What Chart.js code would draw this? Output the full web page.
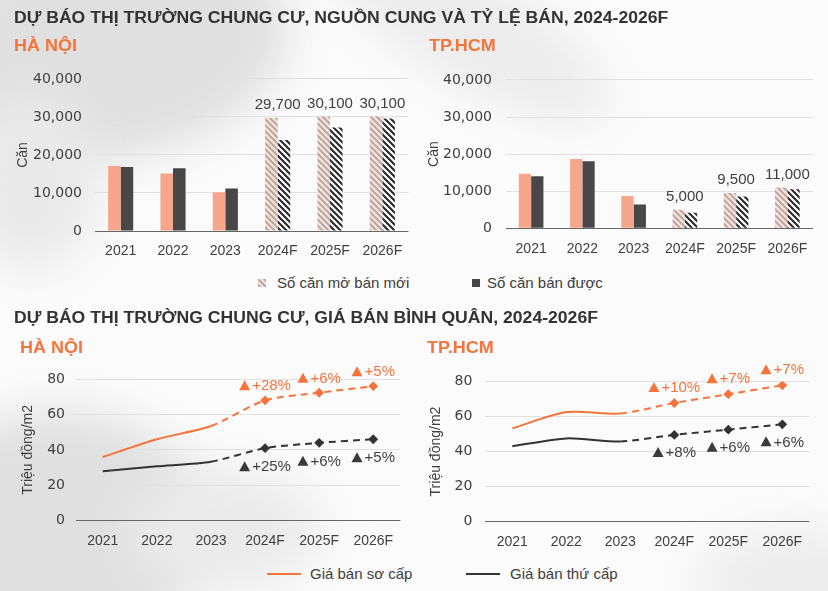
<!DOCTYPE html>
<html>
<head>
<meta charset="utf-8">
<script src="https://cdn.jsdelivr.net/npm/chart.js@4.4.1/dist/chart.umd.min.js"></script>
<style>
  body { margin: 0; background: #fff; font-family: "Liberation Sans", Arial, sans-serif; }
  #page { position: relative; width: 828px; height: 591px; overflow: hidden; background: #fbfbfb; }
  .blob { position: absolute; border-radius: 50%; filter: blur(22px); }
  .title { position: absolute; left: 14px; font-size: 16px; font-weight: bold; color: #333; white-space: nowrap; transform: scaleX(1.1); transform-origin: left center; }
  .city { position: absolute; font-size: 17px; font-weight: bold; color: #F4743B; transform: scaleX(1.06); transform-origin: left center; }
  .box { position: absolute; }
  .legend { position: absolute; font-size: 15px; color: #404040; white-space: nowrap; }
  .sw { position: absolute; width: 8px; height: 8px; }
  .ln { position: absolute; width: 34px; height: 2px; }
</style>
</head>
<body>
<div id="page">
  <!-- soft grey brush shapes in the background -->
  <div class="blob" style="left:-70px;top:-70px;width:360px;height:230px;background:#e0e0e0;transform:rotate(-8deg)"></div>
  <div class="blob" style="left:-40px;top:90px;width:140px;height:180px;background:#e9e9e9"></div>
  <div class="blob" style="left:300px;top:-30px;width:330px;height:110px;background:#ececec;transform:rotate(32deg)"></div>
  <div class="blob" style="left:-90px;top:410px;width:300px;height:240px;background:#e0e0e0"></div>
  <div class="blob" style="left:120px;top:470px;width:200px;height:120px;background:#eaeaea"></div>
  <div class="blob" style="left:700px;top:530px;width:200px;height:100px;background:#ececec"></div>

  <div class="title" style="top:9px">DỰ BÁO THỊ TRƯỜNG CHUNG CƯ, NGUỒN CUNG VÀ TỶ LỆ BÁN, 2024-2026F</div>
  <div class="city" style="left:14px;top:36px">HÀ NỘI</div>
  <div class="city" style="left:429px;top:36px">TP.HCM</div>

  <div class="box" style="left:0;top:58px;width:414px;height:210px"><canvas id="hnBar" width="414" height="210"></canvas></div>
  <div class="box" style="left:414px;top:58px;width:414px;height:210px"><canvas id="hcmBar" width="414" height="210"></canvas></div>

  <div class="sw" id="swSupply" style="left:258px;top:279px"></div>
  <div class="legend" style="left:277px;top:274px">Số căn mở bán mới</div>
  <div class="sw" style="left:472px;top:279px;background:#474747"></div>
  <div class="legend" style="left:487px;top:274px">Số căn bán được</div>

  <div class="title" style="top:309px">DỰ BÁO THỊ TRƯỜNG CHUNG CƯ, GIÁ BÁN BÌNH QUÂN, 2024-2026F</div>
  <div class="city" style="left:20px;top:338px">HÀ NỘI</div>
  <div class="city" style="left:427px;top:338px">TP.HCM</div>

  <div class="box" style="left:0;top:360px;width:414px;height:200px"><canvas id="hnLine" width="414" height="200"></canvas></div>
  <div class="box" style="left:414px;top:360px;width:414px;height:200px"><canvas id="hcmLine" width="414" height="200"></canvas></div>

  <div class="ln" style="left:267px;top:573px;background:#F4743B"></div>
  <div class="legend" style="left:310px;top:565px">Giá bán sơ cấp</div>
  <div class="ln" style="left:466px;top:573px;background:#333"></div>
  <div class="legend" style="left:510px;top:565px">Giá bán thứ cấp</div>
</div>

<script>
/* Data */
const years = ['2021', '2022', '2023', '2024F', '2025F', '2026F'];
const forecastFrom = 3;

const hnSupply = [17100, 15100, 10200, 29700, 30100, 30100];
const hnSold = [16800, 16500, 11200, 23900, 27200, 29600];
const hcmSupply = [14700, 18700, 8700, 5000, 9500, 11000];
const hcmSold = [14000, 18100, 6400, 4200, 8600, 10500];
const unitTicks = [0, 10000, 20000, 30000, 40000];

const hnPrimary = [36, 46, 53.5, 68, 72.3, 76];
const hnSecondary = [28, 30.7, 33.3, 41, 44, 46];
const hcmPrimary = [53.2, 62.5, 61.7, 67.7, 72.7, 77.8];
const hcmSecondary = [43, 47.5, 45.7, 49.5, 52.5, 55.5];
const priceTicks = [0, 20, 40, 60, 80];

const hnPrimaryGrowth = ['', '', '', '+28%', '+6%', '+5%'];
const hnSecondaryGrowth = ['', '', '', '+25%', '+6%', '+5%'];
const hcmPrimaryGrowth = ['', '', '', '+10%', '+7%', '+7%'];
const hcmSecondaryGrowth = ['', '', '', '+8%', '+6%', '+6%'];

/* Styles */
const ORANGE = '#F4743B';
const SALMON = '#F6A68B';
const DARK = '#474747';
const TEXT = '#404040';
const FONT = '"Liberation Sans", Arial, sans-serif';
const TICK_FONT = '"DejaVu Sans", "Liberation Sans", sans-serif';

Chart.defaults.font.family = FONT;
Chart.defaults.color = TEXT;

function hatch(bg, line, width) {
  const c = document.createElement('canvas');
  c.width = c.height = 6;
  const g = c.getContext('2d');
  g.fillStyle = bg;
  g.fillRect(0, 0, 6, 6);
  g.strokeStyle = line;
  g.lineWidth = width;
  g.beginPath();
  g.moveTo(-1, -1); g.lineTo(7, 7);
  g.moveTo(-1, 5); g.lineTo(1, 7);
  g.moveTo(5, -1); g.lineTo(7, 1);
  g.stroke();
  return c;
}

const orangeHatchCanvas = hatch('#f9ddd2', '#a9a3a1', 1.6);
const darkHatchCanvas = hatch('#ffffff', '#2a2a2a', 2.1);
document.getElementById('swSupply').style.background = 'url(' + orangeHatchCanvas.toDataURL() + ')';

function patternFor(chartCanvas, src) {
  return chartCanvas.getContext('2d').createPattern(src, 'repeat');
}

// value labels above the forecast "supply" bars
const barLabelPlugin = {
  id: 'barLabels',
  afterDatasetsDraw(chart) {
    const ctx = chart.ctx;
    const supply = chart.getDatasetMeta(0).data;
    const sold = chart.getDatasetMeta(1).data;
    ctx.save();
    ctx.font = '15px ' + FONT;
    ctx.fillStyle = TEXT;
    ctx.textAlign = 'center';
    ctx.textBaseline = 'middle';
    supply.forEach((bar, i) => {
      if (i < forecastFrom) return;
      const x = (bar.x + sold[i].x) / 2;
      const y = Math.min(bar.y, sold[i].y) - 13;
      ctx.fillText(chart.data.datasets[0].data[i].toLocaleString('en-US'), x, y);
    });
    ctx.restore();
  }
};

// ▲ growth notes next to forecast points
const growthPlugin = {
  id: 'growth',
  afterDatasetsDraw(chart, args, opts) {
    const ctx = chart.ctx;
    ctx.save();
    ctx.font = '15px ' + FONT;
    ctx.textBaseline = 'middle';
    chart.data.datasets.forEach((ds, di) => {
      const meta = chart.getDatasetMeta(di);
      opts.notes[di].forEach((txt, i) => {
        if (!txt) return;
        const p = meta.data[i];
        const y = p.y + opts.offsets[di];
        const tw = ctx.measureText(txt).width;
        const total = 11 + 2 + tw;
        const x0 = p.x - total / 2;
        ctx.fillStyle = opts.colors[di];
        ctx.beginPath();
        ctx.moveTo(x0, y + 5);
        ctx.lineTo(x0 + 11, y + 5);
        ctx.lineTo(x0 + 5.5, y - 5);
        ctx.closePath();
        ctx.fill();
        ctx.fillStyle = di === 0 ? ORANGE : TEXT;
        ctx.textAlign = 'left';
        ctx.fillText(txt, x0 + 13, y + 1);
      });
    });
    ctx.restore();
  }
};

function gridColor(c) {
  return c.tick.value === 0 ? '#666666' : '#e1e1e1';
}

// geo: y-axis width, x-axis height, label gaps, y title offset, layout padding
function barChart(id, supply, sold, geo) {
  const cv = document.getElementById(id);
  const orangeHatch = patternFor(cv, orangeHatchCanvas);
  const darkHatch = patternFor(cv, darkHatchCanvas);
  new Chart(cv, {
    type: 'bar',
    data: {
      labels: years,
      datasets: [
        {
          label: 'Số căn mở bán mới',
          data: supply,
          backgroundColor: years.map((y, i) => i >= forecastFrom ? orangeHatch : SALMON),
          categoryPercentage: 0.48,
          barPercentage: 1
        },
        {
          label: 'Số căn bán được',
          data: sold,
          backgroundColor: years.map((y, i) => i >= forecastFrom ? darkHatch : DARK),
          categoryPercentage: 0.48,
          barPercentage: 1
        }
      ]
    },
    options: {
      responsive: false,
      animation: false,
      layout: { padding: geo.pad },
      plugins: { legend: { display: false }, tooltip: { enabled: false } },
      scales: {
        x: {
          grid: { display: false },
          border: { display: false },
          ticks: { font: { size: 14 }, padding: geo.xPad, color: TEXT },
          afterFit: s => { s.height = geo.xH; }
        },
        y: {
          min: unitTicks[0],
          max: unitTicks[unitTicks.length - 1],
          afterBuildTicks: s => { s.ticks = unitTicks.map(v => ({ value: v })); },
          afterFit: s => { s.width = geo.yW; },
          grid: { color: gridColor, drawTicks: false, lineWidth: 1 },
          border: { display: false },
          ticks: { font: { size: 14, family: TICK_FONT }, padding: geo.yPad, color: TEXT, callback: v => v.toLocaleString('en-US') },
          title: { display: true, text: 'Căn', font: { size: 14 }, color: TEXT, padding: { top: geo.tPad, bottom: 0 } }
        }
      }
    },
    plugins: [barLabelPlugin]
  });
}

function lineChart(id, primary, secondary, notes, offsets, geo) {
  const dashed = ctx => ctx.p0DataIndex >= forecastFrom - 1 ? [7, 5] : undefined;
  const radius = ctx => ctx.dataIndex >= forecastFrom ? 3.5 : 0;
  new Chart(document.getElementById(id), {
    type: 'line',
    data: {
      labels: years,
      datasets: [
        {
          label: 'Giá bán sơ cấp',
          data: primary,
          borderColor: ORANGE,
          backgroundColor: ORANGE,
          borderWidth: 2,
          tension: 0.25,
          pointStyle: 'rectRot',
          pointRadius: radius,
          segment: { borderDash: dashed }
        },
        {
          label: 'Giá bán thứ cấp',
          data: secondary,
          borderColor: '#333',
          backgroundColor: '#333',
          borderWidth: 2,
          tension: 0.25,
          pointStyle: 'rectRot',
          pointRadius: radius,
          segment: { borderDash: dashed }
        }
      ]
    },
    options: {
      responsive: false,
      animation: false,
      layout: { padding: geo.pad },
      plugins: {
        legend: { display: false },
        tooltip: { enabled: false },
        growth: { notes: notes, offsets: offsets, colors: [ORANGE, '#3a3a3a'] }
      },
      scales: {
        x: {
          offset: true,
          grid: { display: false },
          border: { display: false },
          ticks: { font: { size: 14 }, padding: geo.xPad, color: TEXT },
          afterFit: s => { s.height = geo.xH; }
        },
        y: {
          min: priceTicks[0],
          max: priceTicks[priceTicks.length - 1],
          afterBuildTicks: s => { s.ticks = priceTicks.map(v => ({ value: v })); },
          afterFit: s => { s.width = geo.yW; },
          grid: { color: gridColor, drawTicks: false },
          border: { display: false },
          ticks: { font: { size: 14, family: TICK_FONT }, padding: geo.yPad, color: TEXT },
          title: { display: true, text: 'Triệu đồng/m2', font: { size: 14 }, color: TEXT, padding: { top: geo.tPad, bottom: 0 } }
        }
      }
    },
    plugins: [growthPlugin]
  });
}

barChart('hnBar', hnSupply, hnSold, { yW: 94.5, xH: 37, xPad: 4, yPad: 12.5, tPad: 14.6, pad: { left: 0, right: 5.5, top: 20, bottom: 0 } });
barChart('hcmBar', hcmSupply, hcmSold, { yW: 91.5, xH: 39.7, xPad: 4, yPad: 13.5, tPad: 11.6, pad: { left: 0, right: 15, top: 20.3, bottom: 0 } });
lineChart('hnLine', hnPrimary, hnSecondary, [hnPrimaryGrowth, hnSecondaryGrowth], [-15, 18],
  { yW: 75.7, xH: 39.3, xPad: 4, yPad: 10.7, tPad: 19.6, pad: { left: 0, right: 13.7, top: 19, bottom: 0 } });
lineChart('hcmLine', hcmPrimary, hcmSecondary, [hcmPrimaryGrowth, hcmSecondaryGrowth], [-16, 17],
  { yW: 71.3, xH: 38.3, xPad: 4, yPad: 13, tPad: 13.3, pad: { left: 0, right: 18.7, top: 20, bottom: 0 } });
</script>
</body>
</html>
